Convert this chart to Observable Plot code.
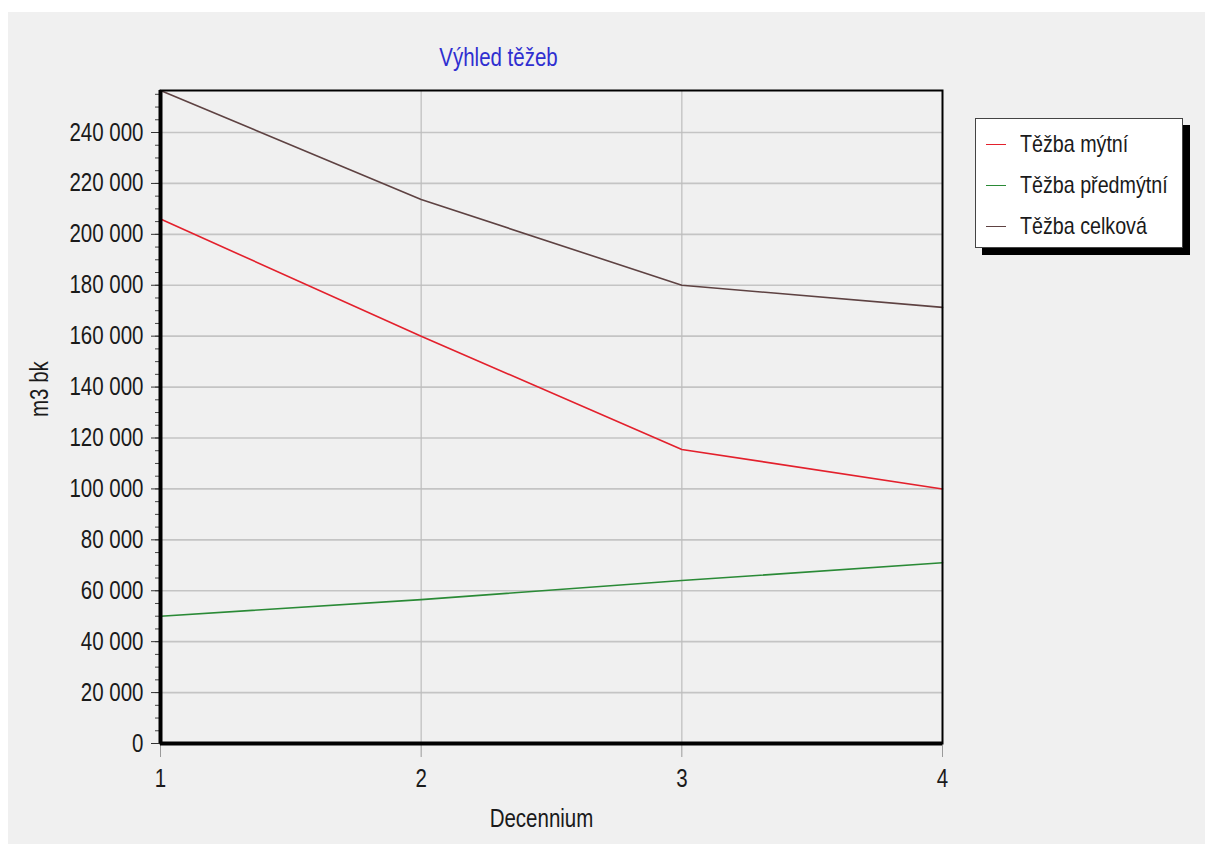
<!DOCTYPE html>
<html>
<head>
<meta charset="utf-8">
<script src="https://cdn.jsdelivr.net/npm/d3@7"></script>
<script src="https://cdn.jsdelivr.net/npm/@observablehq/plot@0.6"></script>
<style>
  html, body { margin: 0; padding: 0; background: #ffffff; }
  body { width: 1205px; height: 844px; position: relative; overflow: hidden;
         font-family: "Liberation Sans", Arial, sans-serif; }
  #panel { position: absolute; left: 8px; top: 12px; width: 1197px; height: 832px; background: #f0f0f0; }
  #chart { position: absolute; left: 0; top: 0; }
  #chart svg { background: transparent !important; }
  #legend { position: absolute; left: 975px; top: 118px; width: 206px; height: 128px;
            background: #ffffff; border: 1px solid #444; box-shadow: 7px 7px 0 #000; }
  .item { position: absolute; left: 0; height: 30px; font-size: 24px; color: #1a1a1a; line-height: 30px; white-space: nowrap; }
  .swatch { position: absolute; left: 10px; top: 15px; width: 20px; height: 0; border-top: 1.5px solid; }
  .lab { position: absolute; left: 44px; top: 0; transform: scaleX(0.82); transform-origin: left center; }
</style>
</head>
<body>
<div id="panel"></div>
<div id="chart"></div>
<div id="legend"></div>
<script>
const decennia = [1, 2, 3, 4];
const seriesNames = ["Těžba mýtní", "Těžba předmýtní", "Těžba celková"];
const tezbaMytni = [206000, 160000, 115500, 100000];
const tezbaPredmytni = [50000, 56500, 64000, 71000];
const tezbaCelkova = [256500, 213700, 180000, 171300];
const seriesColors = ["#e3202c", "#2a8a36", "#5e4242"];
const yMajorTicks = d3.range(0, 240001, 20000);
const yMinorTicks = d3.range(0, 256001, 5000);

const rows = [];
[tezbaMytni, tezbaPredmytni, tezbaCelkova].forEach((vals, si) => {
  vals.forEach((v, i) => rows.push({series: seriesNames[si], x: decennia[i], y: v}));
});

const fmt = d => d3.format(",")(d).replace(/,/g, " ");
const font = '"Liberation Sans", Arial, sans-serif';

const chart = Plot.plot({
  width: 1205,
  height: 844,
  marginLeft: 160,
  marginRight: 263,
  marginTop: 90,
  marginBottom: 101,
  style: {fontFamily: font, fontSize: "25px", background: "transparent", color: "#1a1a1a"},
  x: {domain: [1, 4], ticks: decennia},
  y: {domain: [0, 256500]},
  color: {domain: seriesNames, range: seriesColors},
  marks: [
    Plot.gridY(yMajorTicks, {stroke: "#c4c4c4", strokeOpacity: 1, strokeWidth: 1.6}),
    Plot.gridX([2, 3], {stroke: "#bdbdbd", strokeOpacity: 1, strokeWidth: 1.2}),
    Plot.axisX(decennia, {tickSize: 14, tickPadding: 12, stroke: "#9a9a9a", fontSize: 25, tickFormat: d => String(d), label: null}),
    Plot.axisY(yMinorTicks, {tickSize: 5, stroke: "#444", tickFormat: null, text: null, label: null}),
    Plot.axisY(yMajorTicks, {tickSize: 9, tickPadding: 8, stroke: "#333", fontSize: 25, tickFormat: fmt, label: null}),
    Plot.line(rows, {x: "x", y: "y", z: "series", stroke: "series", strokeWidth: 1.6}),
    Plot.frame({stroke: "#000", strokeWidth: 2}),
    Plot.ruleX([1], {stroke: "#000", strokeWidth: 4}),
    Plot.ruleY([0], {stroke: "#000", strokeWidth: 4}),
    Plot.text(["Výhled těžeb"], {frameAnchor: "top", lineAnchor: "middle", dx: -53, dy: -33, fill: "#2f2fd0", fontSize: 25}),
    Plot.text(["Decennium"], {frameAnchor: "bottom", lineAnchor: "middle", dx: -10, dy: 75, fill: "#1a1a1a", fontSize: 25}),
    Plot.text(["m3 bk"], {frameAnchor: "left", lineAnchor: "middle", dx: -121, rotate: -90, fill: "#1a1a1a", fontSize: 25})
  ]
});
document.getElementById("chart").appendChild(chart);

// condense glyphs horizontally to imitate the narrow typeface of the original
chart.querySelectorAll("text").forEach(t => {
  const len = t.getComputedTextLength();
  if (len > 0) {
    t.setAttribute("textLength", (len * 0.82).toFixed(1));
    t.setAttribute("lengthAdjust", "spacingAndGlyphs");
  }
});

const legend = document.getElementById("legend");
seriesNames.forEach((name, i) => {
  const it = document.createElement("div");
  it.className = "item";
  it.style.top = (10 + i * 41) + "px";
  const sw = document.createElement("div");
  sw.className = "swatch";
  sw.style.borderColor = seriesColors[i];
  const lb = document.createElement("div");
  lb.className = "lab";
  lb.textContent = name;
  it.appendChild(sw);
  it.appendChild(lb);
  legend.appendChild(it);
});
</script>
</body>
</html>
